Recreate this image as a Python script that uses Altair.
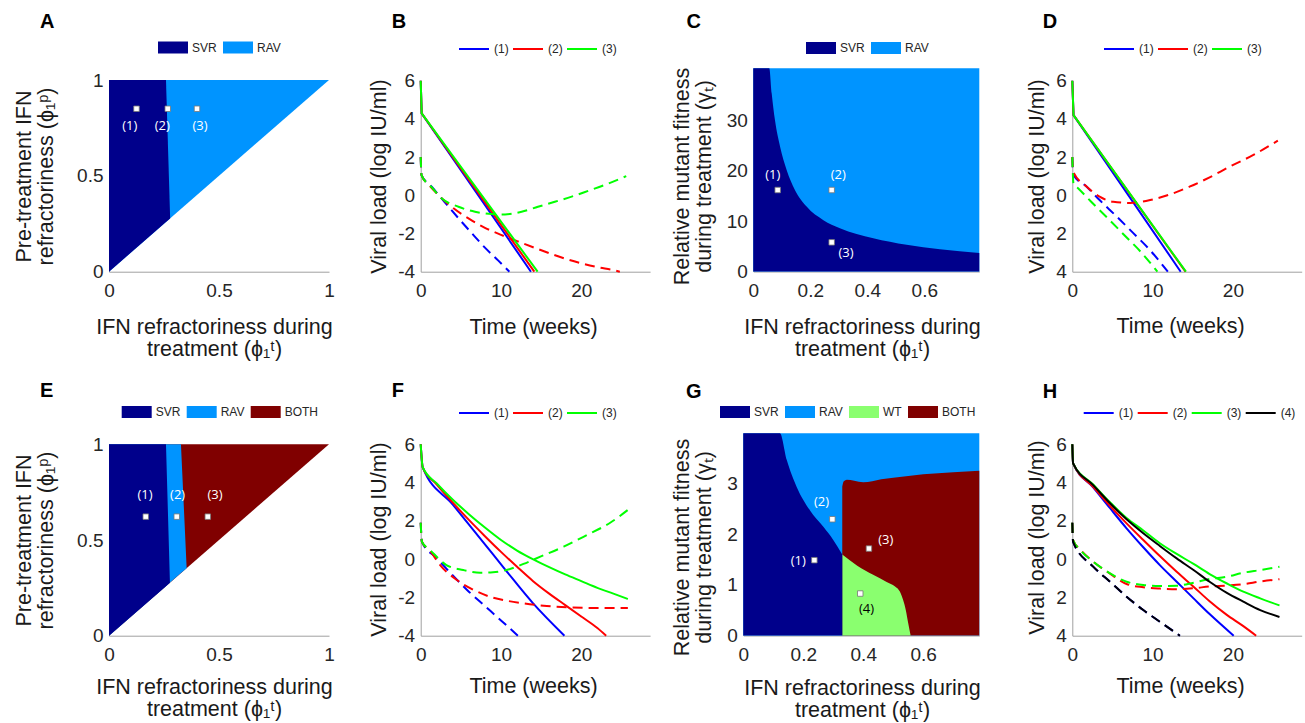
import altair as alt
import pandas as pd

W, H = 1305, 723
FONT = "Liberation Sans"
NOTE_FONT = "Open Sans"
INK = "#262626"
AXIS_GREY = "#a0a0a0"

REGION_NAMES = ["SVR", "RAV", "WT", "BOTH"]
REGION_COLORS = ["#00008B", "#0094FF", "#8AFF6F", "#800000"]
SERIES_NAMES = ["(1)", "(2)", "(3)", "(4)"]
SERIES_COLORS = ["#0000FF", "#FF0000", "#00FF00", "#000000"]

PHI_T_TITLE = ["IFN refractoriness during", "treatment (ϕ₁ᵗ)"]
PHI_P_TITLE = ["Pre-treatment IFN", "refractoriness (ϕ₁ᵖ)"]
GAMMA_TITLE = ["Relative mutant fitness", "during treatment (γₜ)"]
VL_TITLE = "Viral load (log IU/ml)"
TIME_TITLE = "Time (weeks)"

# ---------------- A: outcome map, phi_t vs phi_p ----------------
A_RAV_X, A_RAV_LO, A_RAV_HI = [0.0, 1.0], [0.0, 1.0], [1.0, 1.0]
A_SVR_X, A_SVR_LO, A_SVR_HI = [0.0, 0.259, 0.278], [0.0, 0.259, 0.278], [1.0, 1.0, 0.278]
A_PT_X, A_PT_Y = [0.125, 0.267, 0.400], [0.85, 0.85, 0.85]
A_LBL_X, A_LBL_Y = [0.094, 0.242, 0.414], [0.76, 0.76, 0.76]

# ---------------- E: outcome map with combination therapy ----------------
E_BOTH_X, E_BOTH_LO, E_BOTH_HI = [0.0, 1.0], [0.0, 1.0], [1.0, 1.0]
E_RAV_X, E_RAV_LO, E_RAV_HI = [0.0, 0.327, 0.353], [0.0, 0.327, 0.353], [1.0, 1.0, 0.353]
E_SVR_X, E_SVR_LO, E_SVR_HI = [0.0, 0.259, 0.277], [0.0, 0.259, 0.277], [1.0, 1.0, 0.277]
E_PT_X, E_PT_Y = [0.167, 0.308, 0.449], [0.622, 0.622, 0.622]
E_LBL_X, E_LBL_Y = [0.164, 0.312, 0.482], [0.735, 0.735, 0.735]

# ---------------- C: outcome map, phi_t vs gamma_t ----------------
C_RAV_X, C_RAV_LO, C_RAV_HI = [0.0, 0.793], [0.0, 0.0], [40.4, 40.4]
C_SVR_X = [0.0, 0.056, 0.0646, 0.076, 0.094, 0.117, 0.146, 0.187, 0.246, 0.304, 0.421, 0.538, 0.655, 0.793]
C_SVR_HI = [40.4, 40.4, 35.4, 30.1, 24.8, 20.2, 16.2, 12.9, 10.2, 8.6, 6.6, 5.3, 4.4, 3.7]
C_PT_X, C_PT_Y = [0.0856, 0.275, 0.275], [16.2, 16.2, 5.8]
C_LBL_X, C_LBL_Y = [0.068, 0.298, 0.325], [19.2, 19.2, 3.7]

# ---------------- G: outcome map with combination therapy ----------------
G_RAV_X, G_RAV_LO, G_RAV_HI = [0.0, 0.787], [0.0, 0.0], [4.0, 4.0]
G_BOTH_X = [0.33, 0.335, 0.345, 0.37, 0.40, 0.43, 0.46, 0.50, 0.60, 0.70, 0.787]
G_BOTH_HI = [2.95, 3.05, 3.08, 3.06, 3.03, 3.05, 3.09, 3.12, 3.19, 3.23, 3.26]
G_WT_X = [0.33, 0.38, 0.433, 0.478, 0.506, 0.522, 0.533, 0.542, 0.55, 0.558]
G_WT_HI = [1.6, 1.38, 1.2, 1.06, 0.97, 0.87, 0.70, 0.5, 0.24, 0.0]
G_SVR_X = [0.0, 0.122, 0.145, 0.178, 0.222, 0.267, 0.30, 0.33]
G_SVR_HI = [4.0, 4.0, 3.47, 2.94, 2.48, 2.15, 1.89, 1.6]
G_PT_X, G_PT_Y = [0.237, 0.297, 0.419, 0.39], [1.49, 2.3, 1.72, 0.83]
G_LBL_X, G_LBL_Y = [0.183, 0.261, 0.475, 0.411], [1.48, 2.65, 1.88, 0.52]

# ---------------- B: viral load, total (solid) and mutant (dashed) ----------------
B_TOT_T = [[0, 0.12, 13.73], [0, 0.12, 14.15], [0, 0.12, 14.56]]
B_TOT_V = [[6, 4.29, -4], [6, 4.29, -4], [6, 4.29, -4]]
B_MUT_T = [
    [0, 0.1, 1.37, 3.03, 4.7, 6.35, 8.0, 9.67, 11.04],
    [0, 0.1, 1, 2, 3, 4, 6, 8, 10, 12, 14, 16, 18, 20, 22, 24, 24.8],
    [0, 0.1, 1.37, 2.6, 4.7, 6.76, 8.84, 10.5, 12.57, 14.6, 16.7, 18.8, 20.9, 22.9, 25.6],
]
B_MUT_V = [
    [2.0, 1.06, 0.45, -0.38, -1.2, -1.98, -2.74, -3.42, -4.0],
    [2.0, 1.06, 0.55, 0.1, -0.3, -0.65, -1.22, -1.7, -2.07, -2.4, -2.72, -3.03, -3.32, -3.56, -3.76, -3.92, -4.0],
    [2.0, 1.06, 0.42, -0.16, -0.6, -0.86, -0.98, -1.0, -0.86, -0.6, -0.34, -0.07, 0.24, 0.54, 1.0],
]

# ---------------- D ----------------
D_TOT_T = [[0, 0.15, 13.5], [0, 0.15, 14.1], [0, 0.15, 14.15]]
D_TOT_V = [[6, 4.2, -4], [6, 4.2, -4], [6, 4.2, -4]]
D_MUT_T = [
    [0, 0.1, 1.8, 3.4, 5.5, 7.6, 9.7, 11.9],
    [0, 0.1, 1.8, 3.4, 5.1, 7.2, 8.0, 9.7, 12.2, 14.6, 17.1, 19.6, 22.5, 25.6],
    [0, 0.15, 0.75, 2.2, 4.3, 6.4, 8.5, 10.6],
]
D_MUT_V = [
    [2.0, 1.1, 0.45, -0.25, -1.1, -1.98, -2.88, -4.0],
    [2.0, 1.24, 0.45, -0.07, -0.34, -0.4, -0.38, -0.25, 0.05, 0.45, 0.94, 1.5, 2.1, 2.86],
    [2.0, 0.6, 0.36, -0.27, -1.15, -2.05, -2.95, -4.0],
]

# ---------------- F ----------------
F_TOT_T = [
    [0, 0.25, 4, 8, 10.5, 14, 17.9],
    [0, 0.25, 2, 4, 6, 8, 10, 12, 14, 16, 18, 20, 22, 23.1],
    [0, 0.25, 2, 4, 6, 8, 10, 12, 14.2, 16, 18, 20, 22, 24, 25.8],
]
F_TOT_V = [
    [6, 4.8, 2.85, 0.77, -0.53, -2.31, -4.0],
    [6, 4.8, 3.9, 2.95, 2.05, 1.2, 0.38, -0.4, -1.15, -1.8, -2.4, -3.0, -3.6, -4.0],
    [6, 4.8, 3.95, 3.1, 2.35, 1.65, 1.0, 0.45, -0.05, -0.42, -0.8, -1.15, -1.5, -1.8, -2.08],
]
F_MUT_T = [
    [0, 0.15, 2, 4, 6, 8, 10, 12.1],
    [0, 0.15, 1.2, 2.4, 4.5, 6.6, 8.6, 10.7, 12.8, 15.7, 18.6, 21.9, 25.8],
    [0, 0.15, 1.16, 3.2, 5.3, 7.4, 9.0, 10.7, 12.8, 14.9, 17.8, 20.7, 23.6, 25.8],
]
F_MUT_V = [
    [1.9, 0.9, 0.05, -0.85, -1.7, -2.45, -3.2, -4.0],
    [1.9, 0.91, 0.42, -0.3, -1.09, -1.61, -1.96, -2.17, -2.31, -2.45, -2.52, -2.55, -2.55],
    [1.9, 0.91, 0.48, -0.31, -0.57, -0.71, -0.69, -0.57, -0.25, 0.13, 0.65, 1.26, 1.9, 2.57],
]

# ---------------- H ----------------
H_GRID = [0, 0.1, 2.6, 4.7, 6.76, 8.84, 10.9, 13.0, 15.1, 17.1, 19.2, 21.3, 23.4, 25.8]
H_TOT_T = [
    [0, 0.1, 2.6, 4.7, 6.76, 8.84, 10.9, 13.0, 15.1, 17.1, 20.1],
    [0, 0.1, 2.6, 4.7, 6.76, 8.84, 10.9, 13.0, 15.1, 17.1, 19.2, 21.3, 22.9],
    H_GRID,
    H_GRID,
]
H_TOT_V = [
    [6, 5.0, 3.75, 2.66, 1.61, 0.62, -0.31, -1.18, -2.05, -2.87, -4.0],
    [6, 5.0, 3.78, 2.78, 1.87, 1.0, 0.16, -0.66, -1.44, -2.2, -2.9, -3.5, -4.0],
    [6, 5.0, 3.9, 2.97, 2.15, 1.5, 0.83, 0.27, -0.25, -0.78, -1.26, -1.7, -2.05, -2.42],
    [6, 5.0, 3.87, 2.92, 2.08, 1.35, 0.69, 0.04, -0.57, -1.18, -1.75, -2.22, -2.66, -3.02],
]
H_MUT_T = [
    [0, 0.1, 2.6, 4.7, 6.76, 8.84, 10.9, 13.4],
    [0, 0.1, 1.0, 2.6, 4.7, 6.76, 8.84, 10.9, 13.0, 15.1, 17.1, 19.2, 21.3, 23.4, 25.8],
    [0, 0.1, 1.0, 2.6, 4.7, 6.76, 8.84, 10.9, 13.0, 15.1, 17.1, 19.2, 21.3, 23.4, 25.8],
    [0, 0.1, 2.6, 4.7, 6.76, 8.84, 10.9, 13.4],
]
H_MUT_V = [
    [1.9, 0.9, -0.39, -1.18, -1.96, -2.66, -3.27, -4.0],
    [1.9, 1.0, 0.5, -0.13, -0.76, -1.3, -1.47, -1.54, -1.57, -1.52, -1.43, -1.38, -1.31, -1.17, -1.05],
    [1.9, 1.0, 0.48, -0.13, -0.74, -1.18, -1.35, -1.4, -1.39, -1.23, -1.04, -0.92, -0.71, -0.57, -0.4],
    [1.9, 0.9, -0.39, -1.18, -1.96, -2.66, -3.27, -4.0],
]

NUM_EXPR = "'' + datum.value"
SIGNED_EXPR = "(datum.value < 0 ? '-' : '') + abs(datum.value)"
ABS_EXPR = "'' + abs(datum.value)"


# ---------------- helpers ----------------
def bottom_axis(at_y, values, title, title_x, title_y, expr=None):
    kw = dict(orient="bottom", offset=at_y - H, values=values, title=title,
              titleX=title_x, titleY=title_y, titleAngle=0, titleAlign="center",
              titleBaseline="alphabetic", labelPadding=10)
    if expr:
        kw["labelExpr"] = expr
    return alt.Axis(**kw)


def left_axis(at_x, values, title, title_x, title_y, expr=None):
    kw = dict(orient="left", offset=-at_x, values=values, title=title,
              titleX=title_x, titleY=title_y, titleAngle=270, titleAlign="center",
              titleBaseline="alphabetic", labelPadding=6)
    if expr:
        kw["labelExpr"] = expr
    return alt.Axis(**kw)


def xy(xdom, xrng, ydom, yrng, xaxis, yaxis):
    X = alt.X("x:Q", scale=alt.Scale(domain=xdom, range=xrng, nice=False, zero=False), axis=xaxis)
    Y = alt.Y("y:Q", scale=alt.Scale(domain=ydom, range=yrng, nice=False, zero=False), axis=yaxis)
    return X, Y


def legend(x, y, patch):
    kw = dict(orient="none", legendX=x, legendY=y, direction="horizontal", title=None)
    if patch:
        kw.update(symbolType="M-1,-0.4H1V0.4H-1Z", symbolStrokeWidth=0, columnPadding=6)
    else:
        kw.update(symbolType="stroke", symbolStrokeWidth=2, columnPadding=0)
    return alt.Legend(**kw)


def region_color(names, leg):
    cols = [REGION_COLORS[REGION_NAMES.index(n)] for n in names]
    return alt.Color("region:N", scale=alt.Scale(domain=names, range=cols), legend=leg)


def series_color(n, leg):
    return alt.Color("series:N", scale=alt.Scale(domain=SERIES_NAMES[:n], range=SERIES_COLORS[:n]),
                     legend=leg)


def area(xs, lo, hi, name, X, Y, C, interp="linear"):
    df = pd.DataFrame({"x": xs, "y": lo, "y2": hi, "region": name})
    return alt.Chart(df).mark_area(opacity=1, interpolate=interp).encode(x=X, y=Y, y2="y2:Q", color=C)


def markers(xs, ys, X, Y):
    df = pd.DataFrame({"x": xs, "y": ys})
    return alt.Chart(df).mark_square(size=30, filled=True, fill="white", stroke="#777777",
                                     strokeWidth=0.8, opacity=1).encode(x=X, y=Y)


def tags(xs, ys, X, Y, dark=None):
    df = pd.DataFrame({"x": xs, "y": ys, "label": SERIES_NAMES[:len(xs)]})
    if dark:
        col = alt.condition(alt.FieldOneOfPredicate(field="label", oneOf=dark),
                            alt.value("black"), alt.value("white"))
    else:
        col = alt.value("white")
    return alt.Chart(df).mark_text(font=NOTE_FONT, fontSize=13, align="center",
                                   baseline="middle").encode(x=X, y=Y, text="label:N", color=col)


def letter(ch, px, py):
    return alt.Chart(pd.DataFrame({"letter": [ch]})).mark_text(
        font=FONT, fontSize=20, fontWeight="bold", align="left", baseline="alphabetic",
        color="black").encode(x=alt.value(px), y=alt.value(py), text="letter:N")


def trace(ts, vs, name, dashed, X, Y, C, interp):
    df = pd.DataFrame({"x": ts, "y": vs, "series": name})
    props = dict(strokeWidth=2, interpolate=interp, strokeJoin="round")
    if dashed:
        props["strokeDash"] = [10, 6]
    return alt.Chart(df).mark_line(**props).encode(x=X, y=Y, color=C)


def viral_panel(tot_t, tot_v, mut_t, mut_v, X, Y, leg, straight_total):
    n = len(tot_t)
    C = series_color(n, leg)
    layers = []
    for i in range(n):
        name = SERIES_NAMES[i]
        layers.append(trace(tot_t[i], tot_v[i], name, False, X, Y, C,
                            "linear" if straight_total else "monotone"))
        layers.append(trace(mut_t[i], mut_v[i], name, True, X, Y, C, "monotone"))
    return layers


# ---------------- panel A ----------------
X, Y = xy([0, 1], [109, 329], [0, 1], [271.7, 80],
          bottom_axis(271.7, [0, 0.5, 1], PHI_T_TITLE, 214, 61.6, NUM_EXPR),
          left_axis(109, [0, 0.5, 1], PHI_P_TITLE, -79, 176, NUM_EXPR))
C = region_color(["SVR", "RAV"], legend(158, 32.5, True))
pA = alt.layer(
    area(A_RAV_X, A_RAV_LO, A_RAV_HI, "RAV", X, Y, C),
    area(A_SVR_X, A_SVR_LO, A_SVR_HI, "SVR", X, Y, C),
    markers(A_PT_X, A_PT_Y, X, Y),
    tags(A_LBL_X, A_LBL_Y, X, Y),
    letter("A", 40, 28),
)

# ---------------- panel B ----------------
X, Y = xy([0, 28.57], [420.7, 650.1], [-4, 6], [271.7, 80.7],
          bottom_axis(271.7, [0, 10, 20], TIME_TITLE, 533, 61.6),
          left_axis(420.7, [-4, -2, 0, 2, 4, 6], VL_TITLE, -35, 176, SIGNED_EXPR))
pB = alt.layer(*viral_panel(B_TOT_T, B_TOT_V, B_MUT_T, B_MUT_V, X, Y,
                            legend(458, 33, False), True),
               letter("B", 391.7, 28))

# ---------------- panel C ----------------
X, Y = xy([0, 0.793], [753.3, 979.3], [0, 40.4], [271.5, 68.3],
          bottom_axis(271.5, [0, 0.2, 0.4, 0.6], PHI_T_TITLE, 862, 61.8, NUM_EXPR),
          left_axis(753.3, [0, 10, 20, 30], GAMMA_TITLE, -64.6, 176))
C = region_color(["SVR", "RAV"], legend(806, 33, True))
pC = alt.layer(
    area(C_RAV_X, C_RAV_LO, C_RAV_HI, "RAV", X, Y, C),
    area(C_SVR_X, [0.0] * len(C_SVR_X), C_SVR_HI, "SVR", X, Y, C, "monotone"),
    markers(C_PT_X, C_PT_Y, X, Y),
    tags(C_LBL_X, C_LBL_Y, X, Y),
    letter("C", 686.5, 27.5),
)

# ---------------- panel D ----------------
X, Y = xy([0, 28.57], [1072.3, 1301.7], [-4, 6], [271.7, 80.7],
          bottom_axis(271.7, [0, 10, 20], TIME_TITLE, 1180, 61),
          left_axis(1072.3, [-4, -2, 0, 2, 4, 6], VL_TITLE, -28.5, 176, ABS_EXPR))
pD = alt.layer(*viral_panel(D_TOT_T, D_TOT_V, D_MUT_T, D_MUT_V, X, Y,
                            legend(1103, 33, False), True),
               letter("D", 1042.7, 28))

# ---------------- panel E ----------------
X, Y = xy([0, 1], [109, 329], [0, 1], [635.7, 444.3],
          bottom_axis(635.7, [0, 0.5, 1], PHI_T_TITLE, 214, 57.6, NUM_EXPR),
          left_axis(109, [0, 0.5, 1], PHI_P_TITLE, -79, 540, NUM_EXPR))
C = region_color(["SVR", "RAV", "BOTH"], legend(121.7, 397, True))
pE = alt.layer(
    area(E_BOTH_X, E_BOTH_LO, E_BOTH_HI, "BOTH", X, Y, C),
    area(E_RAV_X, E_RAV_LO, E_RAV_HI, "RAV", X, Y, C),
    area(E_SVR_X, E_SVR_LO, E_SVR_HI, "SVR", X, Y, C),
    markers(E_PT_X, E_PT_Y, X, Y),
    tags(E_LBL_X, E_LBL_Y, X, Y),
    letter("E", 40, 396.7),
)

# ---------------- panel F ----------------
X, Y = xy([0, 28.57], [420.7, 650.1], [-4, 6], [635.7, 444.3],
          bottom_axis(635.7, [0, 10, 20], TIME_TITLE, 533, 56.3),
          left_axis(420.7, [-4, -2, 0, 2, 4, 6], VL_TITLE, -35, 539, SIGNED_EXPR))
pF = alt.layer(*viral_panel(F_TOT_T, F_TOT_V, F_MUT_T, F_MUT_V, X, Y,
                            legend(458, 397, False), False),
               letter("F", 391.7, 396.7))

# ---------------- panel G ----------------
X, Y = xy([0, 0.787], [743.3, 979.3], [0, 4], [635.5, 433.3],
          bottom_axis(635.5, [0, 0.2, 0.4, 0.6], PHI_T_TITLE, 862, 58.5, NUM_EXPR),
          left_axis(743.3, [0, 1, 2, 3], GAMMA_TITLE, -54.6, 547))
C = region_color(["SVR", "RAV", "WT", "BOTH"], legend(720, 397, True))
pG = alt.layer(
    area(G_RAV_X, G_RAV_LO, G_RAV_HI, "RAV", X, Y, C),
    area(G_BOTH_X, [0.0] * len(G_BOTH_X), G_BOTH_HI, "BOTH", X, Y, C, "monotone"),
    area(G_WT_X, [0.0] * len(G_WT_X), G_WT_HI, "WT", X, Y, C, "monotone"),
    area(G_SVR_X, [0.0] * len(G_SVR_X), G_SVR_HI, "SVR", X, Y, C, "monotone"),
    markers(G_PT_X, G_PT_Y, X, Y),
    tags(G_LBL_X, G_LBL_Y, X, Y, dark=["(4)"]),
    letter("G", 686, 397.5),
)

# ---------------- panel H ----------------
X, Y = xy([0, 28.57], [1072.3, 1301.7], [-4, 6], [635.7, 444.3],
          bottom_axis(635.7, [0, 10, 20], TIME_TITLE, 1180, 56.3),
          left_axis(1072.3, [-4, -2, 0, 2, 4, 6], VL_TITLE, -28.5, 537, ABS_EXPR))
pH = alt.layer(*viral_panel(H_TOT_T, H_TOT_V, H_MUT_T, H_MUT_V, X, Y,
                            legend(1082.7, 397, False), False),
               letter("H", 1042.7, 397.5))

chart = (
    alt.layer(pA, pB, pC, pD, pE, pF, pG, pH)
    .resolve_scale(x="independent", y="independent", color="independent")
    .properties(width=W, height=H, padding=0, background="white",
                autosize=alt.AutoSizeParams(type="none"))
    .configure_view(stroke=None)
    .configure_axis(grid=False, ticks=False, tickSize=0, labelFont=FONT, labelFontSize=19,
                    labelColor=INK, titleFont=FONT, titleFontSize=21.5, titleFontWeight="normal",
                    titleColor="#1a1a1a", domainColor=AXIS_GREY, domainWidth=1,
                    labelFlush=False, labelOverlap=False, titleLineHeight=22)
    .configure_legend(labelFont=FONT, labelFontSize=12, labelColor=INK, labelOffset=4,
                      padding=0, symbolSize=900, symbolOpacity=1)
)

chart.save("out.html", embed_options={"renderer": "svg", "actions": False})
